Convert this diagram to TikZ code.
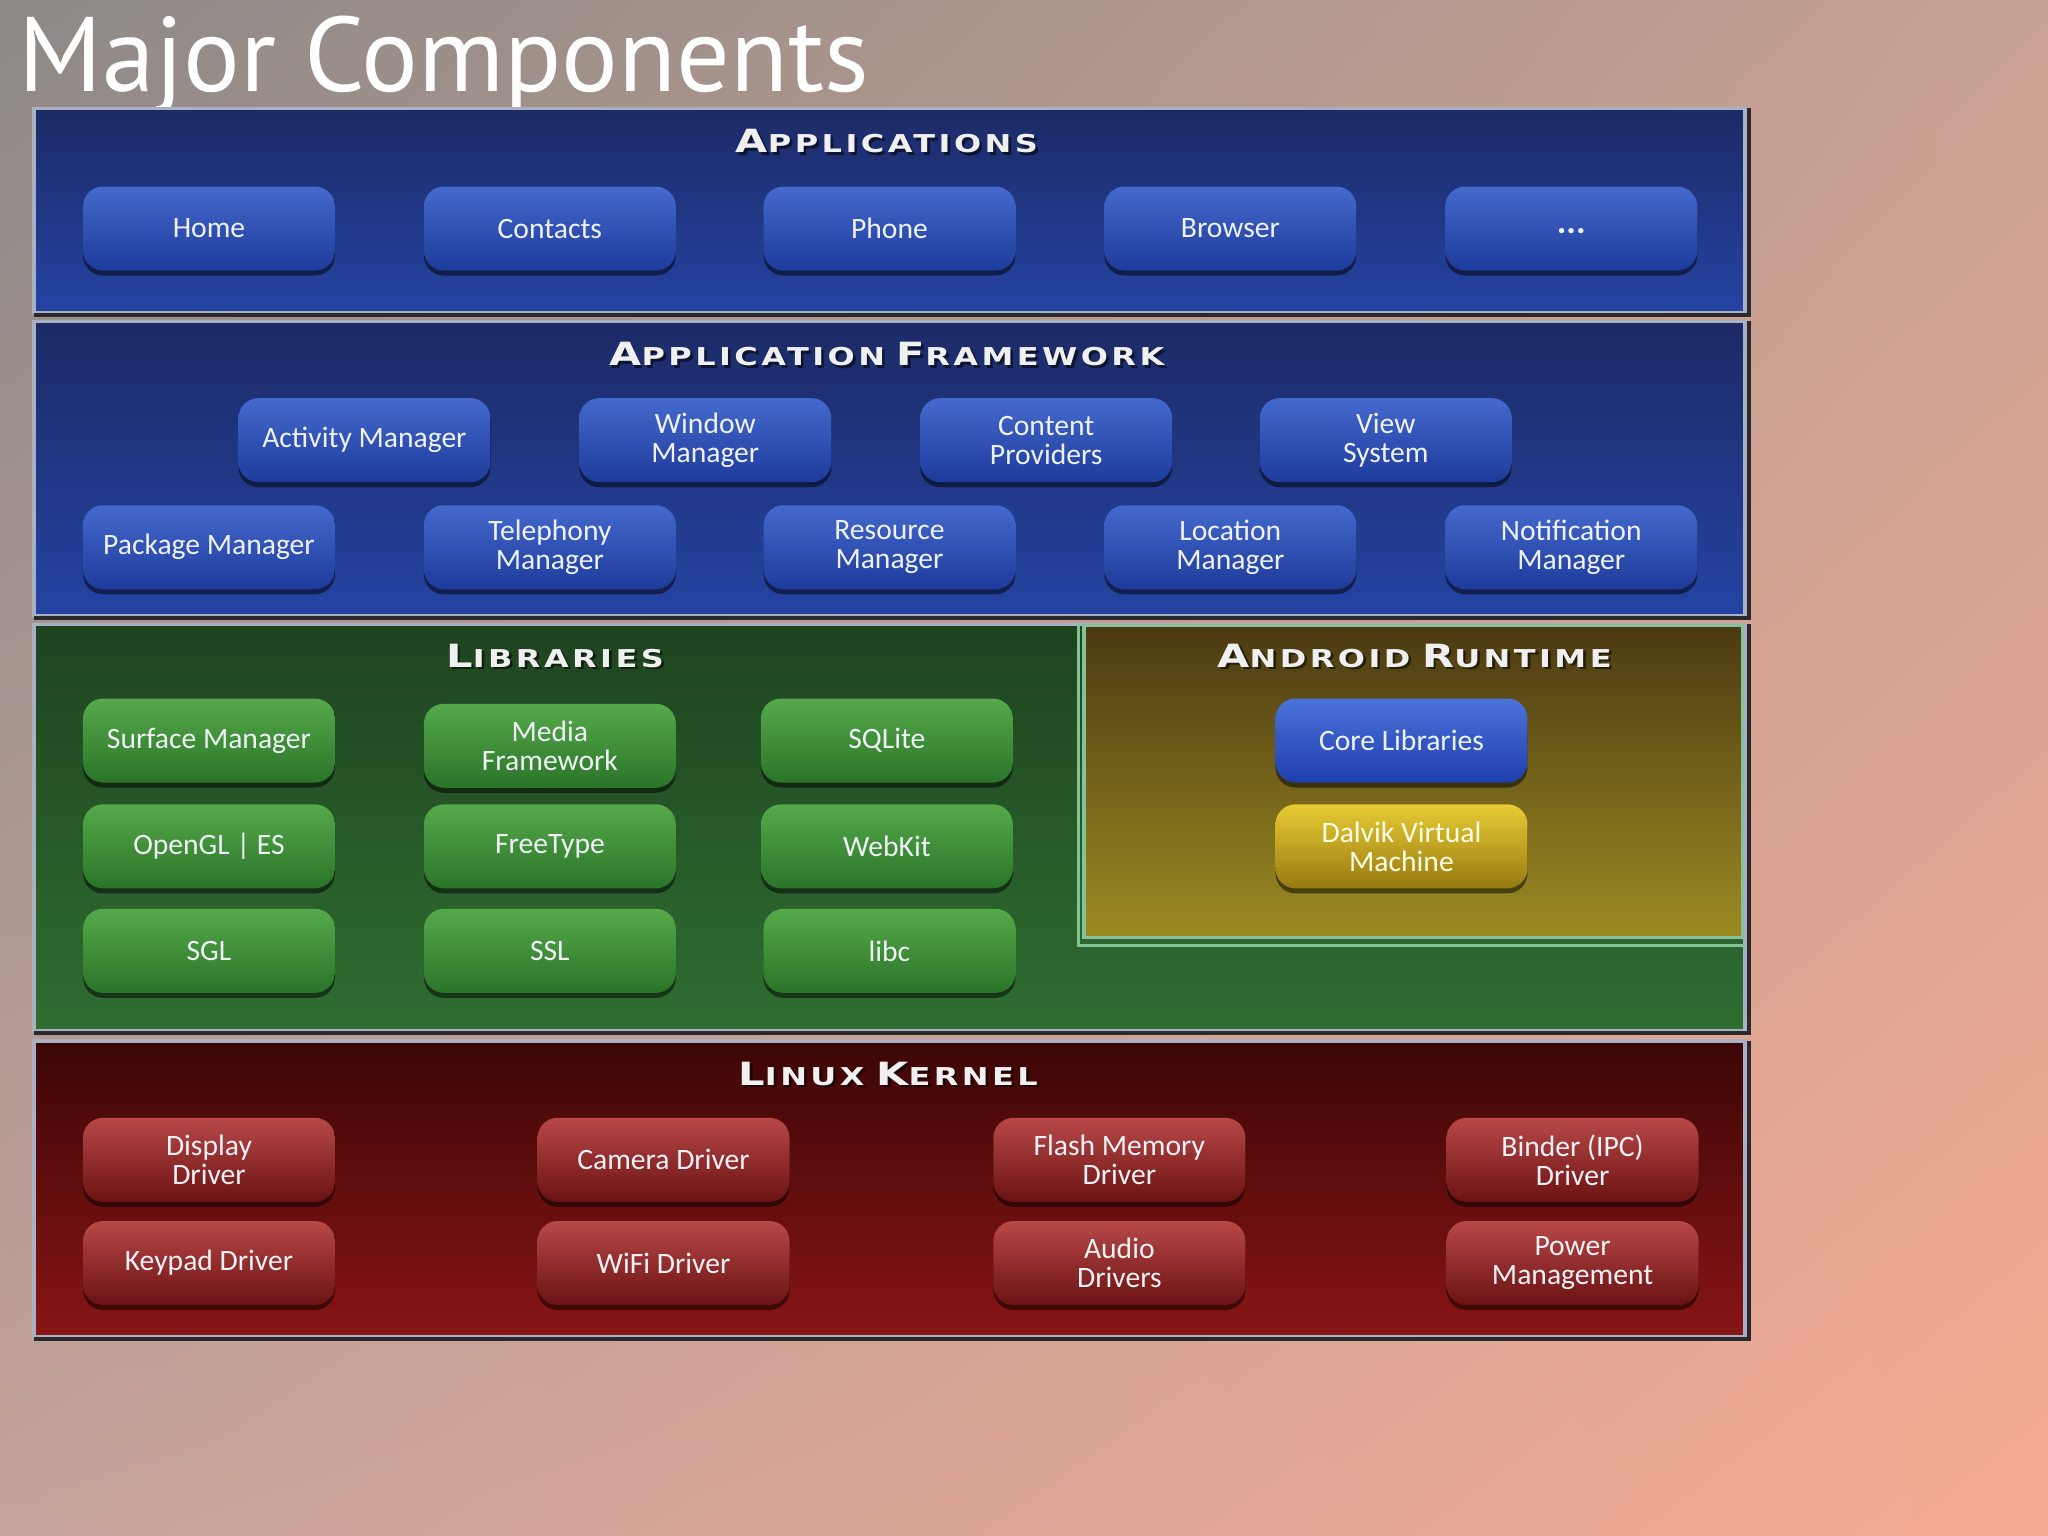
\documentclass[tikz,border=0pt]{standalone}
\usepackage{fontspec}
\usetikzlibrary{shadows,shadings}
\newfontfamily\titlefont{PT Sans}
\newfontfamily\btnfont{Carlito}
\newfontfamily\headfont{DejaVu Sans}[FakeStretch=1.3, LetterSpace=14]
\newcommand{\hd}[2]{{\fontsize{16}{16}\selectfont #1}{\fontsize{12.3}{12.3}\selectfont #2}}
\definecolor{bgul}{HTML}{8D8987}
\definecolor{bgur}{HTML}{C9A192}
\definecolor{bgll}{HTML}{C6A29A}
\definecolor{bglr}{HTML}{F5AB92}
\definecolor{bluetop}{HTML}{1C2B66}
\definecolor{bluebot}{HTML}{2443A2}
\definecolor{greentop}{HTML}{1E431F}
\definecolor{greenbot}{HTML}{2F6E31}
\definecolor{olivetop}{HTML}{4B3A12}
\definecolor{olivebot}{HTML}{9C8B22}
\definecolor{redtop}{HTML}{3C0606}
\definecolor{redbot}{HTML}{881515}
\definecolor{bbtop}{HTML}{4569CD}
\definecolor{bbbot}{HTML}{1D3B9B}
\definecolor{gbtop}{HTML}{56A94B}
\definecolor{gbbot}{HTML}{2A7428}
\definecolor{rbtop}{HTML}{B84848}
\definecolor{rbbot}{HTML}{6B1212}
\definecolor{ybtop}{HTML}{E8CB34}
\definecolor{ybbot}{HTML}{977A10}
\definecolor{cbtop}{HTML}{4B72DA}
\definecolor{cbbot}{HTML}{1F3FAE}
\definecolor{rim}{HTML}{A9B0C2}
\definecolor{rimdark}{HTML}{2A2A2E}
\definecolor{btntext}{HTML}{EEF1F6}
\tikzset{
  panel/.style={draw=rim, line width=1.6pt},
  btn/.style={rounded corners=10pt, minimum width=126pt, minimum height=42pt,
    inner sep=0pt, align=center, text=btntext,
    font=\btnfont\fontsize{14.8}{14.5}\selectfont,
    drop shadow={shadow xshift=0pt, shadow yshift=-2.5pt, opacity=0.5, fill=black}},
  bluebtn/.style={btn, top color=bbtop, bottom color=bbbot},
  greenbtn/.style={btn, top color=gbtop, bottom color=gbbot},
  redbtn/.style={btn, top color=rbtop, bottom color=rbbot},
  corebtn/.style={btn, top color=cbtop, bottom color=cbbot},
  yellowbtn/.style={btn, top color=ybtop, bottom color=ybbot, text=yellow!10!white},
  heading/.style={font=\headfont\bfseries, text=white!94!black, inner sep=0pt},
  headshadow/.style={font=\headfont\bfseries, text=black, opacity=0.55, inner sep=0pt}
}
\begin{document}
\begin{tikzpicture}[x=0.6531pt, y=-0.6531pt]
\useasboundingbox (0,0) rectangle (1568,1176);
\shade[upper left=bgul, upper right=bgur, lower left=bgll, lower right=bglr] (0,0) rectangle (1568,1176);

% title
\node[anchor=base west, inner sep=0pt, text=white, font=\titlefont\fontsize{53}{53}\selectfont] (title) at (14,70) {Major Components};

% panels
\path[panel, top color=bluetop, bottom color=bluebot] (26,83) rectangle (1336,239);
\path[panel, top color=bluetop, bottom color=bluebot] (26,246) rectangle (1336,471);
\path[panel, top color=greentop, bottom color=greenbot] (26,478) rectangle (1336,789);
\path[draw=rim!80!green, line width=1.6pt, top color=olivetop, bottom color=olivebot] (830,479) rectangle (1334,718);
\draw[rim!75!green, line width=1.4pt] (826,478) -- (826,724) -- (1336,724);
\path[panel, top color=redtop, bottom color=redbot] (26,797) rectangle (1336,1023);
\foreach \a/\b in {83/239, 246/471, 478/789, 797/1023}{
  \draw[rimdark, line width=1.8pt] (1339,\a) -- (1339,\b+2) -- (26,\b+2);
}

% headings
\node[headshadow] (h1s) at (681,110) {\hd{A}{PPLICATIONS}};
\node[heading] (h1) at (679,108) {\hd{A}{PPLICATIONS}};
\node[headshadow] (h2s) at (681,273) {\hd{A}{PPLICATION} \hd{F}{RAMEWORK}};
\node[heading] (h2) at (679,271) {\hd{A}{PPLICATION} \hd{F}{RAMEWORK}};
\node[headshadow] (h3s) at (427,504) {\hd{L}{IBRARIES}};
\node[heading] (h3) at (425,502) {\hd{L}{IBRARIES}};
\node[headshadow] (h4s) at (1085,504) {\hd{A}{NDROID} \hd{R}{UNTIME}};
\node[heading] (h4) at (1083,502) {\hd{A}{NDROID} \hd{R}{UNTIME}};
\node[headshadow] (h5s) at (682,824) {\hd{L}{INUX} \hd{K}{ERNEL}};
\node[heading] (h5) at (680,822) {\hd{L}{INUX} \hd{K}{ERNEL}};

% applications
\node[bluebtn] (home) at (160,175) {Home};
\node[bluebtn] (contacts) at (421,175) {Contacts};
\node[bluebtn] (phone) at (681,175) {Phone};
\node[bluebtn] (browser) at (942,175) {Browser};
\node[bluebtn] (more) at (1203,175) {\raisebox{-2.5pt}[0pt][0pt]{\fontsize{18}{18}\selectfont\textbf{...}}};

% framework
\node[bluebtn] (activity) at (279,337) {Activity Manager};
\node[bluebtn] (window) at (540,337) {Window\\Manager};
\node[bluebtn] (content) at (801,337) {Content\\Providers};
\node[bluebtn] (view) at (1061,337) {View\\System};
\node[bluebtn] (package) at (160,419) {Package Manager};
\node[bluebtn] (telephony) at (421,419) {Telephony\\Manager};
\node[bluebtn] (resource) at (681,419) {Resource\\Manager};
\node[bluebtn] (location) at (942,419) {Location\\Manager};
\node[bluebtn] (notification) at (1203,419) {Notification\\Manager};

% libraries
\node[greenbtn] (surface) at (160,567) {Surface Manager};
\node[greenbtn] (media) at (421,571) {Media\\Framework};
\node[greenbtn] (sqlite) at (679,567) {SQLite};
\node[greenbtn] (opengl) at (160,648) {OpenGL | ES};
\node[greenbtn] (freetype) at (421,648) {FreeType};
\node[greenbtn] (webkit) at (679,648) {WebKit};
\node[greenbtn] (sgl) at (160,728) {SGL};
\node[greenbtn] (ssl) at (421,728) {SSL};
\node[greenbtn] (libc) at (681,728) {libc};

% android runtime
\node[corebtn] (core) at (1073,567) {Core Libraries};
\node[yellowbtn] (dalvik) at (1073,648) {Dalvik Virtual\\Machine};

% linux kernel
\node[redbtn] (display) at (160,888) {Display\\Driver};
\node[redbtn] (camera) at (508,888) {Camera Driver};
\node[redbtn] (flash) at (857,888) {Flash Memory\\Driver};
\node[redbtn] (binder) at (1204,888) {Binder (IPC)\\Driver};
\node[redbtn] (keypad) at (160,967) {Keypad Driver};
\node[redbtn] (wifi) at (508,967) {WiFi Driver};
\node[redbtn] (audio) at (857,967) {Audio\\Drivers};
\node[redbtn] (power) at (1204,967) {Power\\Management};
\end{tikzpicture}
\end{document}
